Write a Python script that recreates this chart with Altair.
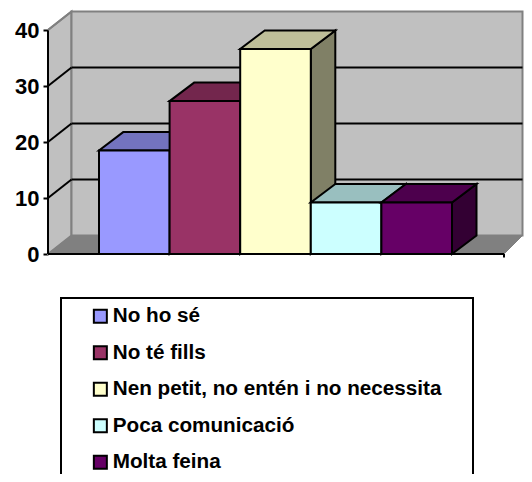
import altair as alt
import pandas as pd

categories = ["No ho sé", "No té fills", "Nen petit, no entén i no necessita", "Poca comunicació", "Molta feina"]
values = [18.5, 27.3, 36.6, 9.2, 9.2]
front_colors = ["#9999FF", "#993366", "#FFFFCC", "#CCFFFF", "#660066"]
top_colors = ["#7373BF", "#73264D", "#BFBF99", "#99BFBF", "#4D004D"]
side_colors = ["#4D4D80", "#4D1933", "#808066", "#668080", "#330033"]
y_ticks = [0, 10, 20, 30, 40]

W, H = 516, 466
PX_UNIT = 70.6      # pixels per category slot
PY_UNIT = 5.6       # pixels per value unit
X0 = 91             # chart pixel of the first bar's left edge
Y0 = 246            # chart pixel of value 0
DX = 24.5 / PX_UNIT # depth of the bars in slots
DY = 18.5 / PY_UNIT # depth of the bars in value units
WALL_L = -51 / PX_UNIT
WALL_R = 405 / PX_UNIT
BACK_L = WALL_L + 23.5 / PX_UNIT
BACK_R = (W - 1.5 - X0) / PX_UNIT
BLACK = "#000000"
GREY = "#808080"
FONT = "Liberation Sans"

xs = alt.Scale(domain=[-X0 / PX_UNIT, (W - X0) / PX_UNIT], nice=False, zero=False)
ys = alt.Scale(domain=[(Y0 - H) / PY_UNIT, Y0 / PY_UNIT], nice=False, zero=False)
y_axis = alt.Axis(
    values=y_ticks, title=None, domain=False, grid=False, offset=-(X0 + WALL_L * PX_UNIT),
    tickColor=BLACK, tickWidth=2, tickSize=5, labelPadding=4,
    labelFont=FONT, labelFontWeight="bold", labelFontSize=22, labelColor=BLACK, format="d")
X = lambda f="x": alt.X(f"{f}:Q", scale=xs, axis=None)
Y = lambda f="y": alt.Y(f"{f}:Q", scale=ys, axis=y_axis)


def vband(x0, x1, y0a, y1a, y0b, y1b, fill, stroke=BLACK, sw=2):
    """parallelogram with vertical sides"""
    d = pd.DataFrame({"x": [x0, x1], "y": [y0a, y0b], "y2": [y1a, y1b]})
    return alt.Chart(d).mark_area(fill=fill, stroke=stroke, strokeWidth=sw).encode(
        x=X(), y=Y(), y2="y2:Q")


def hband(y0, y1, x0a, x1a, x0b, x1b, fill, stroke=BLACK, sw=2):
    """parallelogram with horizontal sides"""
    d = pd.DataFrame({"y": [y0, y1], "x": [x0a, x0b], "x2": [x1a, x1b]})
    return alt.Chart(d).mark_area(orient="horizontal", fill=fill, stroke=stroke, strokeWidth=sw).encode(
        y=Y(), x=X(), x2="x2:Q")


def seg(x0, y0, x1, y1, color=BLACK, sw=2):
    d = pd.DataFrame({"x": [x0], "y": [y0], "x2": [x1], "y2": [y1]})
    return alt.Chart(d).mark_rule(color=color, strokeWidth=sw).encode(
        x=X(), y=Y(), x2="x2:Q", y2="y2:Q")


layers = []

# walls and floor
layers.append(vband(WALL_L, BACK_L, 0, 40, DY, 40 + DY, "#C0C0C0", GREY, 2))
d_back = pd.DataFrame({"x": [BACK_L], "x2": [BACK_R], "y": [DY], "y2": [40 + DY]})
layers.append(alt.Chart(d_back).mark_rect(fill="#C0C0C0", stroke=GREY, strokeWidth=2).encode(
    x=X(), x2="x2:Q", y=Y(), y2="y2:Q"))
layers.append(hband(0, DY, WALL_L, WALL_R, BACK_L, BACK_R, GREY, GREY, 1))

# grid lines
for t in y_ticks[1:-1]:
    layers.append(seg(WALL_L, t, BACK_L, t + DY))
    layers.append(seg(BACK_L, t + DY, BACK_R, t + DY))

# bars, left to right
for i, (c, v) in enumerate(zip(categories, values)):
    l, r = i, i + 1
    layers.append(vband(r, r + DX, 0, v, DY, v + DY, side_colors[i]))
    layers.append(hband(v, v + DY, l, r, l + DX, r + DX, top_colors[i]))
    d = pd.DataFrame({"cat": [c], "x": [l], "x2": [r], "y": [0.0], "y2": [v]})
    layers.append(alt.Chart(d).mark_rect(stroke=BLACK, strokeWidth=2).encode(
        x=X(), x2="x2:Q", y=Y(), y2="y2:Q",
        color=alt.Color("cat:N", scale=alt.Scale(domain=categories, range=front_colors),
                        legend=alt.Legend(
                            title=None, orient="none", legendX=82, legendY=298,
                            symbolType="square", symbolSize=169, symbolStrokeColor=BLACK,
                            symbolStrokeWidth=2, symbolOpacity=1, labelFont=FONT, labelFontWeight="bold",
                            labelFontSize=20.7, labelColor=BLACK, labelLimit=400, labelOffset=2,
                            rowPadding=14.5, padding=0, values=categories))))

# axis lines
layers.append(seg(WALL_L, 0, WALL_L, 40))
layers.append(seg(WALL_L, 0, WALL_R, 0))
layers.append(seg(WALL_R, 0, WALL_R, -3.5 / PY_UNIT))
layers.append(seg(WALL_L, 40, BACK_L, 40 + DY, GREY))

# legend frame, behind the legend
frame = alt.Chart(pd.DataFrame({"a": [0]})).mark_rect(fill="#FFFFFF", stroke=BLACK, strokeWidth=2).encode(
    x=alt.value(53), x2=alt.value(465), y=alt.value(290), y2=alt.value(500))
layers.append(frame)

chart = alt.layer(*layers).properties(
    width=W, height=H, padding=0, autosize=alt.AutoSizeParams(type="none"),
    background="#FFFFFF",
).configure_view(stroke=None)

chart.save("out.html", embed_options={"renderer": "svg", "actions": False})
